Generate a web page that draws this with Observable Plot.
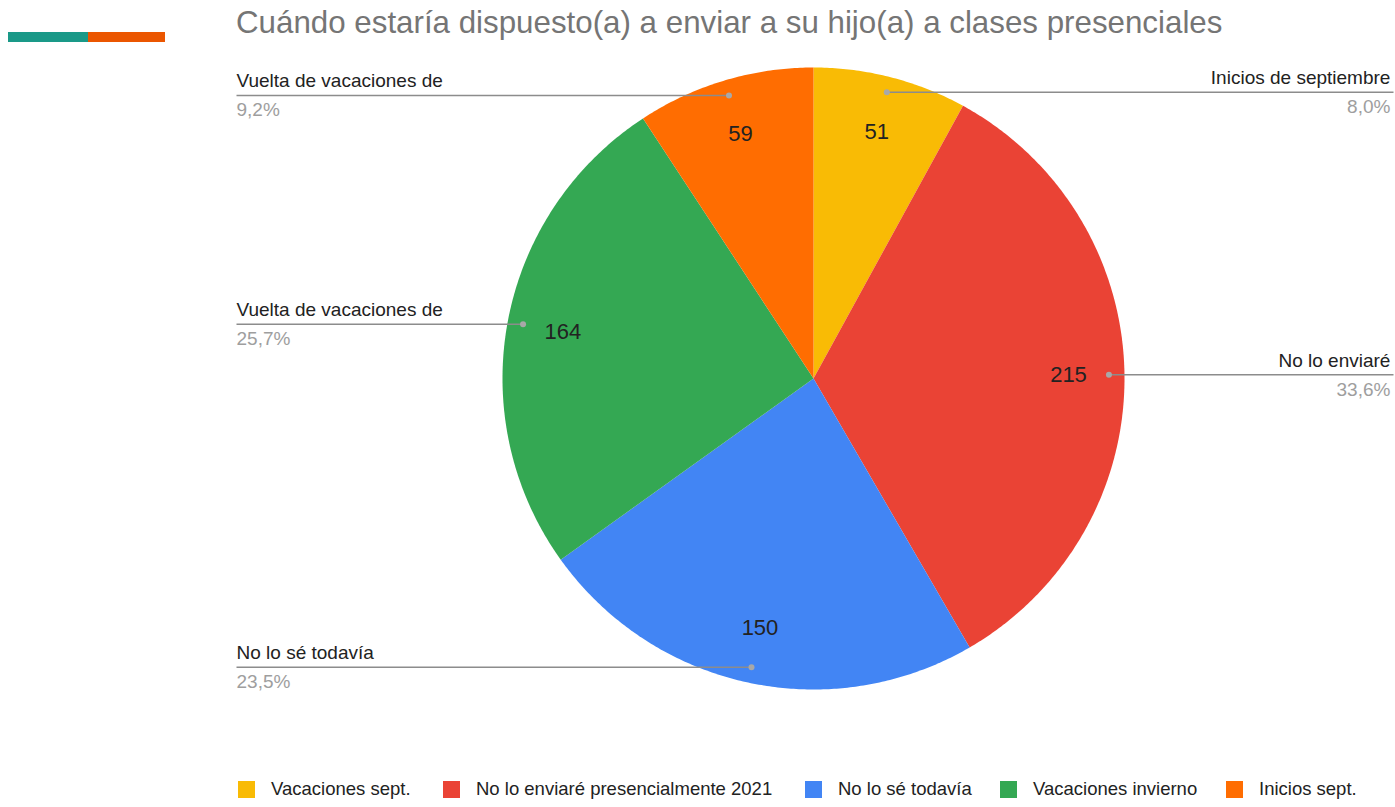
<!DOCTYPE html>
<html>
<head>
<meta charset="utf-8">
<script src="https://cdn.jsdelivr.net/npm/d3@7"></script>
<script src="https://cdn.jsdelivr.net/npm/@observablehq/plot@0.6"></script>
<style>
  html, body { margin: 0; padding: 0; background: #fff; }
  body { width: 1395px; height: 807px; position: relative; overflow: hidden; font-family: "Liberation Sans", Arial, sans-serif; }
  #deco { position: absolute; left: 8px; top: 32px; height: 10px; width: 157px; display: flex; }
  #deco div { height: 100%; }
  #title { position: absolute; left: 236px; top: 7px; font-size: 31.3px; line-height: 1; color: #757575; white-space: nowrap; }
  #chart { position: absolute; left: 0; top: 0; }
  #legend { position: absolute; left: 0; top: 778px; width: 1395px; height: 20px; }
  .item { position: absolute; top: 0; display: flex; align-items: center; font-size: 18.5px; color: #222; white-space: nowrap; }
  .sw { width: 17px; height: 17px; margin-right: 16px; }
</style>
</head>
<body>
<div id="deco"><div style="width:80px;background:#1a9988"></div><div style="width:77px;background:#eb5600"></div></div>
<div id="title">Cuándo estaría dispuesto(a) a enviar a su hijo(a) a clases presenciales</div>
<div id="chart"></div>
<div id="legend"></div>
<script>
// ---- data ----
const categories = ["Vacaciones sept.", "No lo enviaré presencialmente 2021", "No lo sé todavía", "Vacaciones invierno", "Inicios sept."];
const values = [51, 215, 150, 164, 59];
const calloutLabels = ["Inicios de septiembre", "No lo enviaré", "No lo sé todavía", "Vuelta de vacaciones de", "Vuelta de vacaciones de"];
const colors = ["#f9bb05", "#ea4335", "#4285f4", "#34a853", "#ff6d01"];

// ---- layout constants ----
const cx = 813, cy = 378, R = 311;
const leftEdge = (236 - cx) / R, rightEdge = (1393 - cx) / R;
const legendX = [238, 443, 805, 1000, 1226];

const total = d3.sum(values);
const arcs = d3.pie().sort(null).startAngle(0).endAngle(2 * Math.PI)(values);

// slice polygons in unit coordinates
const poly = [];
arcs.forEach((a, i) => {
  poly.push({cat: categories[i], x: 0, y: 0});
  const n = Math.max(4, Math.ceil((a.endAngle - a.startAngle) / (Math.PI / 360)));
  for (let k = 0; k <= n; k++) {
    const t = a.startAngle + (a.endAngle - a.startAngle) * k / n;
    poly.push({cat: categories[i], x: Math.sin(t), y: Math.cos(t)});
  }
  poly.push({cat: categories[i], x: 0, y: 0});
});

const info = arcs.map((a, i) => {
  const m = (a.startAngle + a.endAngle) / 2;
  const right = Math.sin(m) >= 0;
  return {
    cat: categories[i], value: values[i], label: calloutLabels[i],
    pct: (values[i] / total * 100).toFixed(1).replace(".", ",") + "%",
    lx: 0.82 * Math.sin(m), ly: 0.82 * Math.cos(m),
    dx: 0.95 * Math.sin(m), dy: 0.95 * Math.cos(m),
    ex: right ? rightEdge : leftEdge,
    tx: right ? rightEdge - 0.01 : leftEdge,
    anchor: right ? "end" : "start"
  };
});

const chart = Plot.plot({
  width: 1395, height: 760,
  margin: 0,
  x: {domain: [-1, 1], range: [cx - R, cx + R], axis: null},
  y: {domain: [-1, 1], range: [cy + R, cy - R], axis: null},
  color: {domain: categories, range: colors},
  style: {fontFamily: "'Liberation Sans', Arial, sans-serif", background: "transparent"},
  marks: [
    Plot.line(poly, {x: "x", y: "y", z: "cat", fill: "cat", stroke: null, curve: "linear"}),
    Plot.link(info, {x1: "dx", y1: "dy", x2: "ex", y2: "dy", stroke: "#8c8c8c", strokeWidth: 1.5}),
    Plot.dot(info, {x: "dx", y: "dy", r: 3, fill: "#a8a8a8", stroke: null}),
    Plot.text(info, {x: "lx", y: "ly", text: d => String(d.value), fontSize: 22, fill: "#222"}),
    Plot.text(info.filter(d => d.anchor === "start"), {x: "tx", y: "dy", text: "label", textAnchor: "start", dy: -14, fontSize: 19, fill: "#222"}),
    Plot.text(info.filter(d => d.anchor === "start"), {x: "tx", y: "dy", text: "pct", textAnchor: "start", dy: 15, fontSize: 19, fill: "#9e9e9e"}),
    Plot.text(info.filter(d => d.anchor === "end"), {x: "tx", y: "dy", text: "label", textAnchor: "end", dy: -14, fontSize: 19, fill: "#222"}),
    Plot.text(info.filter(d => d.anchor === "end"), {x: "tx", y: "dy", text: "pct", textAnchor: "end", dy: 15, fontSize: 19, fill: "#9e9e9e"})
  ]
});
document.getElementById("chart").appendChild(chart);

const legend = document.getElementById("legend");
categories.forEach((c, i) => {
  const it = document.createElement("div");
  it.className = "item";
  it.style.left = legendX[i] + "px";
  const sw = document.createElement("div");
  sw.className = "sw";
  sw.style.background = colors[i];
  const tx = document.createElement("span");
  tx.textContent = c;
  it.appendChild(sw); it.appendChild(tx);
  legend.appendChild(it);
});
</script>
</body>
</html>
